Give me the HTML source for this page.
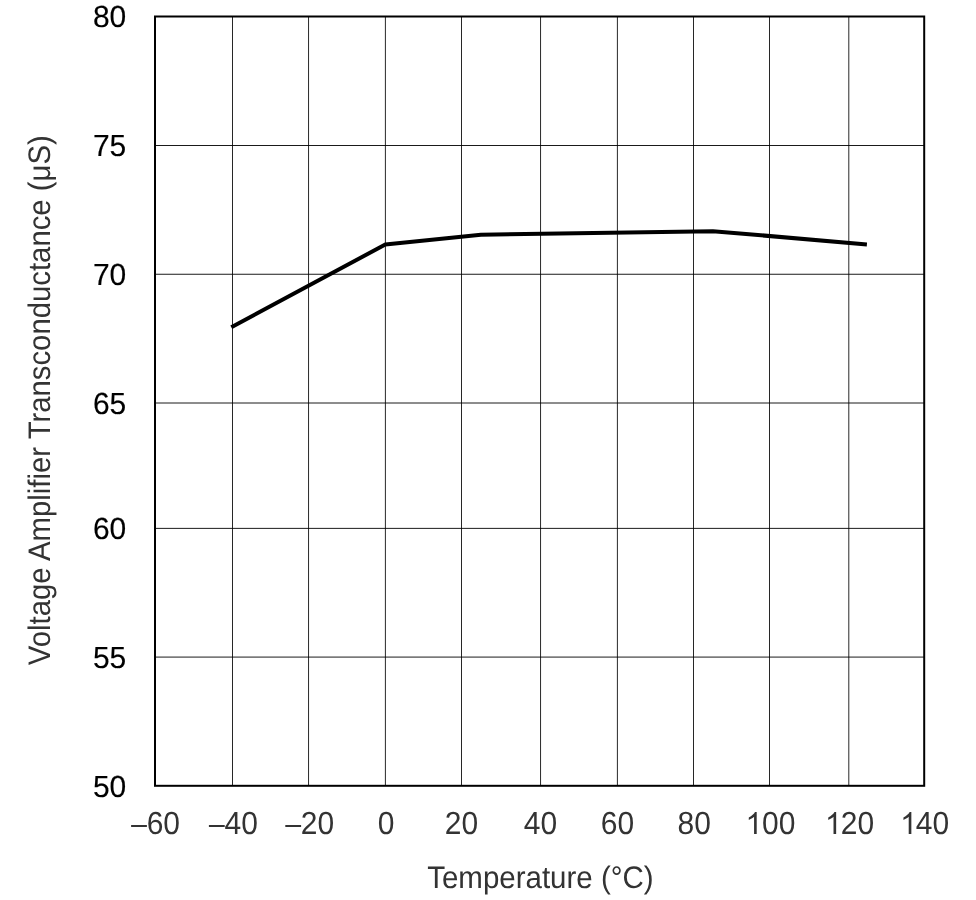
<!DOCTYPE html>
<html>
<head>
<meta charset="utf-8">
<title>Voltage Amplifier Transconductance vs Temperature</title>
<style>
  html, body { margin: 0; padding: 0; background: #ffffff; }
  body { width: 976px; height: 900px; overflow: hidden; }
  svg { display: block; will-change: transform; }
  text { font-family: "Liberation Sans", sans-serif; text-rendering: geometricPrecision; }
  .yt { fill: #000000; stroke: #000000; stroke-width: 0.15px; text-anchor: end; font-size: 30px; }
  .xt { fill: #333333; text-anchor: middle; font-size: 30px; }
  .xs { fill: #333333; text-anchor: start; font-size: 30px; }
  .ttl { fill: #333333; text-anchor: middle; font-size: 29.4px; }
</style>
</head>
<body>
<svg width="976" height="900" viewBox="0 0 976 900">
  <rect x="0" y="0" width="976" height="900" fill="#ffffff"/>
  <!-- vertical gridlines -->
  <g stroke="#000000" stroke-width="0.85" fill="none">
    <line x1="232.5" y1="16" x2="232.5" y2="786"/>
    <line x1="308.55" y1="16" x2="308.55" y2="786"/>
    <line x1="385.4" y1="16" x2="385.4" y2="786"/>
    <line x1="461.5" y1="16" x2="461.5" y2="786"/>
    <line x1="540.55" y1="16" x2="540.55" y2="786"/>
    <line x1="617.4" y1="16" x2="617.4" y2="786"/>
    <line x1="693.5" y1="16" x2="693.5" y2="786"/>
    <line x1="769.5" y1="16" x2="769.5" y2="786"/>
    <line x1="848.8" y1="16" x2="848.8" y2="786"/>
  </g>
  <!-- horizontal gridlines -->
  <g stroke="#000000" stroke-width="0.9" fill="none">
    <line x1="155" y1="145.5" x2="924" y2="145.5"/>
    <line x1="155" y1="274.26" x2="924" y2="274.26"/>
    <line x1="155" y1="403" x2="924" y2="403"/>
    <line x1="155" y1="528.38" x2="924" y2="528.38"/>
    <line x1="155" y1="657.08" x2="924" y2="657.08"/>
  </g>
  <!-- plot frame -->
  <rect x="155" y="16.5" width="769.2" height="769.3" fill="none" stroke="#000000" stroke-width="2"/>
  <!-- data curve -->
  <polyline points="231.3,327.2 385.3,244.5 480.9,234.7 712.9,231.15 866.9,244.4" fill="none" stroke="#000000" stroke-width="4" stroke-linejoin="round" stroke-linecap="butt"/>
  <!-- y tick labels -->
  <text class="yt" transform="translate(126.3 26.5) scale(1 1.02)">80</text>
  <text class="yt" transform="translate(126.3 155.55) scale(1 1.02)">75</text>
  <text class="yt" transform="translate(126.3 284.85) scale(1 1.02)">70</text>
  <text class="yt" transform="translate(126.3 413.9) scale(1 1.02)">65</text>
  <text class="yt" transform="translate(126.3 539) scale(1 1.02)">60</text>
  <text class="yt" transform="translate(126.3 667.75) scale(1 1.02)">55</text>
  <text class="yt" transform="translate(126.3 796.9) scale(1 1.02)">50</text>
  <!-- x tick labels -->
  <g transform="translate(155 833.9)"><rect fill="#333333" x="-23.9" y="-8.9" width="15.8" height="2"/><text class="xs" transform="translate(-8.342 0) scale(1 1.066)">60</text></g>
  <g transform="translate(232.8 833.9)"><rect fill="#333333" x="-23.9" y="-8.9" width="15.8" height="2"/><text class="xs" transform="translate(-8.342 0) scale(1 1.066)">40</text></g>
  <g transform="translate(309.2 833.9)"><rect fill="#333333" x="-23.9" y="-8.9" width="15.8" height="2"/><text class="xs" transform="translate(-8.342 0) scale(1 1.066)">20</text></g>
  <text class="xt" transform="translate(386.1 833.9) scale(1 1.066)">0</text>
  <text class="xt" transform="translate(461.5 833.9) scale(1 1.066)">20</text>
  <text class="xt" transform="translate(540.5 833.9) scale(1 1.066)">40</text>
  <text class="xt" transform="translate(617.4 833.9) scale(1 1.066)">60</text>
  <text class="xt" transform="translate(694.3 833.9) scale(1 1.066)">80</text>
  <g transform="translate(770.4 833.9) scale(1 1.066)"><path fill="#333333" transform="translate(-24.877 0) scale(0.014648 -0.014022)" d="M763 0H583V1147Q518 1085 412.5 1023T223 930V1104Q374 1175 487 1276T647 1472H763Z"/><text class="xs" x="-8.342" y="0">00</text></g>
  <g transform="translate(849.1 833.9) scale(1 1.066)"><path fill="#333333" transform="translate(-24.127 0) scale(0.014648 -0.014022)" d="M763 0H583V1147Q518 1085 412.5 1023T223 930V1104Q374 1175 487 1276T647 1472H763Z"/><text class="xs" x="-8.342" y="0">20</text></g>
  <g transform="translate(924.2 833.9) scale(1 1.066)"><path fill="#333333" transform="translate(-24.027 0) scale(0.014648 -0.014022)" d="M763 0H583V1147Q518 1085 412.5 1023T223 930V1104Q374 1175 487 1276T647 1472H763Z"/><text class="xs" x="-8.342" y="0">40</text></g>
  <!-- axis titles -->
  <text class="ttl" transform="translate(540.4 887.8) scale(1.003 1.06)">Temperature (°C)</text>
  <text class="ttl" transform="translate(49.7 400.25) rotate(-90) scale(0.997 1.06)">Voltage Amplifier Transconductance (μS)</text>
</svg>
</body>
</html>
